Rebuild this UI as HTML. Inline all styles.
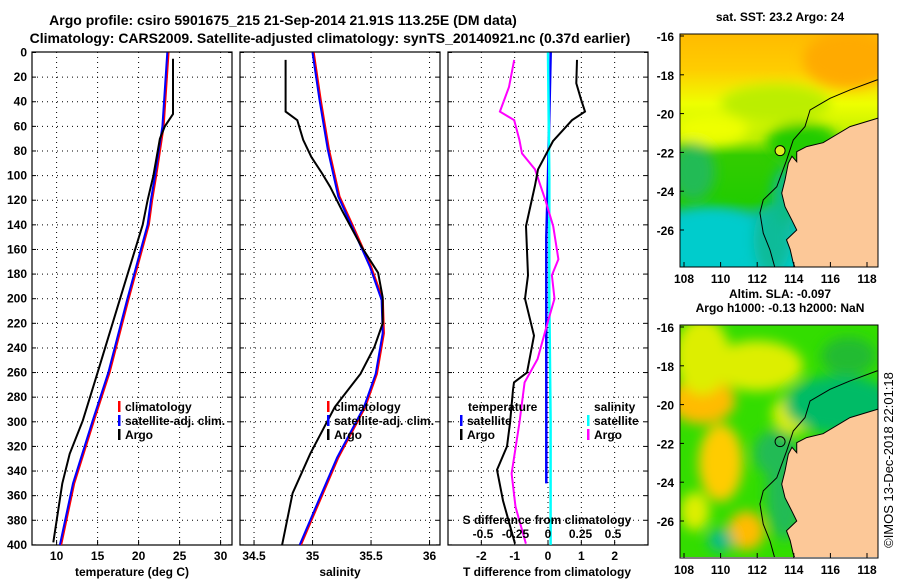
<!DOCTYPE html>
<html><head><meta charset="utf-8">
<style>
body{margin:0;background:#fff;}
svg{display:block;font-family:"Liberation Sans",Arial,sans-serif;font-weight:bold;}
</style></head>
<body>
<svg id="c" width="900" height="580" viewBox="0 0 900 580">
<defs><filter id="bl" x="-50%" y="-50%" width="200%" height="200%"><feGaussianBlur stdDeviation="6"/></filter>
<linearGradient id="sstg" x1="0" y1="0" x2="0" y2="1">
<stop offset="0" stop-color="#ffbb00"/><stop offset="0.15" stop-color="#ffcc00"/><stop offset="0.3" stop-color="#eeff00"/>
<stop offset="0.45" stop-color="#bbee00"/><stop offset="0.52" stop-color="#33cc00"/><stop offset="0.72" stop-color="#22cc00"/>
<stop offset="0.8" stop-color="#11bbaa"/><stop offset="1" stop-color="#00cccc"/></linearGradient>
<clipPath id="m1c"><rect x="680" y="34" width="198" height="233"/></clipPath>
<clipPath id="m2c"><rect x="680" y="325" width="198" height="232"/></clipPath>
<clipPath id="p1c"><rect x="32" y="52" width="200" height="493"/></clipPath>
<clipPath id="p2c"><rect x="240" y="52" width="200" height="493"/></clipPath>
<clipPath id="p3c"><rect x="448" y="52" width="200" height="493"/></clipPath>
</defs>
<text x="283" y="25" font-size="14" text-anchor="middle">Argo profile: csiro 5901675_215 21-Sep-2014 21.91S 113.25E (DM data)</text>
<text x="330" y="43" font-size="14" text-anchor="middle">Climatology: CARS2009. Satellite-adjusted climatology: synTS_20140921.nc (0.37d earlier)</text>
<text transform="translate(893,460) rotate(-90)" font-size="13" font-weight="normal" text-anchor="middle">©IMOS 13-Dec-2018 22:01:18</text>
<g id="g"></g>
</svg>
<script>
// ---- data ----
const depthTicks=[0,20,40,60,80,100,120,140,160,180,200,220,240,260,280,300,320,340,360,380,400];
const tTicks=[10,15,20,25,30];
const sTicks=[34.5,35,35.5,36];
const dTTicks=[-2,-1,0,1,2];
const dSTickLabels=["-0.5","-0.25","0","0.25","0.5"];
const dSTicks=[-0.5,-0.25,0,0.25,0.5];
const argoTDepth=[5,50,60,70,100,120,140,201,260,299,326,350,398];
const argoT=[24.2,24.2,23.2,22.6,21.8,21.1,20.5,17.7,15.0,13.2,11.6,10.7,9.6];
const climTDepth=[0,60,100,120,140,201,260,299,350,400];
const climT=[23.5,22.9,22.0,21.5,21.1,18.6,16.3,14.4,12.0,10.4];
const argoSDepth=[6,48,55,71,85,98,109,128,158,179,199,220,239,261,288,326,358,400];
const argoS=[34.77,34.77,34.87,34.92,34.99,35.08,35.15,35.25,35.42,35.56,35.60,35.60,35.53,35.41,35.19,34.98,34.83,34.74];
const climSDepth=[0,39,79,117,142,174,201,228,261,288,329,369,400];
const climS=[35.0,35.06,35.13,35.22,35.34,35.49,35.59,35.60,35.54,35.44,35.21,35.03,34.89];
const dTDepth=[6,25,38,48,55,72,95,108,141,181,200,230,260,268,274,301,320,339,364,399];
const dTArgo=[0.87,0.85,0.99,1.11,0.72,0.15,-0.3,-0.39,-0.66,-0.6,-0.69,-0.42,-0.63,-1.02,-1.05,-1.14,-1.23,-1.53,-1.35,-0.99];
const dSDepth=[6,28,48,55,71,82,95,120,141,168,181,200,222,249,268,301,342,369,399];
const dSArgo=[-0.26,-0.30,-0.37,-0.26,-0.22,-0.2,-0.10,-0.02,0.04,0.08,0.03,0.05,-0.01,-0.08,-0.18,-0.22,-0.28,-0.25,-0.17];
const dTSatDepth=[0,100,150,250,350];
const dTSat=[0.08,0.0,-0.05,-0.05,-0.05];
const dSSatDepth=[0,100,200,300,400];
const dSSat=[0.0,0.01,0.01,0.02,0.02];
// ---- helpers ----
const NS="http://www.w3.org/2000/svg";
const G=document.getElementById('g');
function mk(t,a,p){const e=document.createElementNS(NS,t);for(const k in a)e.setAttribute(k,a[k]);(p||G).appendChild(e);return e;}
const y0=52.5,ky=1.231;
const Y=d=>y0+d*ky;
const XT=v=>32+(v-7)*8.2;
const XS=v=>240+(v-34.38)*117;
const XD=v=>548+v*33.33;
const XDS=v=>548+v*130;
function panel(x,name,xt,xf,labs){
  const g=mk('g',{});
  
  
  xt.forEach(v=>{mk('line',{x1:xf(v),x2:xf(v),y1:52,y2:545,stroke:'#000','stroke-dasharray':'1,4','stroke-width':1},g);
    mk('line',{x1:xf(v),x2:xf(v),y1:545,y2:540,stroke:'#000'},g);});
  depthTicks.forEach(d=>{if(d>0&&d<400)mk('line',{x1:x,x2:x+200,y1:Y(d),y2:Y(d),stroke:'#000','stroke-dasharray':'1,4'},g);
    mk('line',{x1:x,x2:x+4,y1:Y(d),y2:Y(d),stroke:'#000'},g);mk('line',{x1:x+196,x2:x+200,y1:Y(d),y2:Y(d),stroke:'#000'},g);});
  mk('rect',{x:x,y:52,width:200,height:493,fill:'none',stroke:'#000','stroke-width':1.2},g);
  if(labs) xt.forEach((v,i)=>{const t=mk('text',{x:xf(v),y:560,'font-size':12,'text-anchor':'middle'},g);t.textContent=labs[i];});
  return g;
}
function line(xs,ds,xf,col,w,clip,name){
  const p=xs.map((v,i)=>xf(v).toFixed(1)+','+Y(ds[i]).toFixed(1)).join(' ');
  const e=mk('polyline',{points:p,fill:'none',stroke:col,'stroke-width':w,'clip-path':'url(#'+clip+')'});
  
  
}
function txt(x,y,s,name,anchor,size){const t=mk('text',{x:x,y:y,'font-size':size||12,'text-anchor':anchor||'start'});t.textContent=s;
  
  return t;}
depthTicks.forEach(d=>{txt(27,Y(d)+4,String(d),'depth-tick-label','end');});
panel(32,'temperature-panel',tTicks,XT,tTicks.map(String));
panel(240,'salinity-panel',sTicks,XS,sTicks.map(String));
panel(448,'difference-panel',dTTicks,XD,dTTicks.map(String));
line(climT,climTDepth,v=>XT(v)+1,'#f00',2.5,'p1c','temp-climatology-line');
line(climT,climTDepth,XT,'#00f',2,'p1c','temp-satellite-adj-line');
line(argoT,argoTDepth,XT,'#000',2,'p1c','temp-argo-line');
line(climS,climSDepth,v=>XS(v)+1,'#f00',2.5,'p2c','sal-climatology-line');
line(climS,climSDepth,XS,'#00f',2,'p2c','sal-satellite-adj-line');
line(argoS,argoSDepth,XS,'#000',2,'p2c','sal-argo-line');
line(dTSat,dTSatDepth,XD,'#00f',2.5,'p3c','dT-satellite-line');
line(dSSat,dSSatDepth,XDS,'#0ff',2.5,'p3c','dS-satellite-line');
line(dSArgo,dSDepth,XDS,'#f0f',2,'p3c','dS-argo-line');
line(dTArgo,dTDepth,XD,'#000',2,'p3c','dT-argo-line');
txt(132,576,'temperature (deg C)','x-axis-title-temperature','middle');
txt(340,576,'salinity','x-axis-title-salinity','middle');
txt(547,576,'T difference from climatology','x-axis-title-dT','middle');
txt(547,524,'S difference from climatology','x-axis-title-dS','middle');
dSTicks.forEach((v,i)=>{txt(XDS(v),538,dSTickLabels[i],'dS-tick-label','middle');});
function leg(x,y,col,s,name){mk('rect',{x:x,y:y-10,width:2.5,height:11,fill:col});txt(x+7,y,s,name);}
leg(118,411,'#f00','climatology','legend-climatology');
leg(118,425,'#00f','satellite-adj. clim.','legend-satellite-adj');
leg(118,439,'#000','Argo','legend-argo');
leg(327,411,'#f00','climatology','legend-climatology-2');
leg(327,425,'#00f','satellite-adj. clim.','legend-satellite-adj-2');
leg(327,439,'#000','Argo','legend-argo-2');
txt(468,411,'temperature','legend-temperature-header');
leg(460,425,'#00f','satellite','legend-dT-satellite');
leg(460,439,'#000','Argo','legend-dT-argo');
txt(594,411,'salinity','legend-salinity-header');
leg(587,425,'#0ff','satellite','legend-dS-satellite');
leg(587,439,'#f0f','Argo','legend-dS-argo');
// ---- maps ----
const lonTicks=[108,110,112,114,116,118];
const latTicks=[-16,-18,-20,-22,-24,-26];
const coastLon=[118.9,118.58,117.07,115.6,114.7,114.16,114.16,113.9,113.7,113.52,113.34,113.52,113.9,114.16,113.6,113.8,113.97,114.1];
const coastLat=[-20.2,-20.24,-20.67,-21.5,-21.7,-21.96,-22.48,-22.2,-22.56,-23.42,-24.1,-24.8,-25.5,-26.0,-26.5,-27.0,-27.7,-28.0];
const shelfLon=[118.9,118.53,117.07,115.98,114.89,114.61,113.97,113.61,113.07,112.33,112.15,112.33,112.70,112.97];
const shelfLat=[-18.2,-18.27,-18.78,-19.21,-19.81,-20.67,-21.36,-22.39,-23.77,-24.45,-25.12,-26.16,-27.03,-27.95];
const argoLon=113.25, argoLat=-21.91;
function map(top,name,blobs,base,clip,title){
  const g=mk('g',{});
  
  
  const MX=lon=>684+(lon-108)*18.3, MY=lat=>top+2+(-16-lat)*19.4;
  const cg=mk('g',{'clip-path':'url(#'+clip+')'},g);
  mk('rect',{x:680,y:top,width:198,height:233,fill:base},cg);
  const bg=mk('g',{filter:'url(#bl)'},cg);
  blobs.forEach(b=>mk('ellipse',{cx:MX(b[0]),cy:MY(b[1]),rx:b[2]*18.3,ry:b[3]*19.4,fill:b[4]},bg));
  let p=coastLon.map((v,i)=>MX(v)+','+MY(coastLat[i])).join(' ');
  mk('polygon',{points:p+' '+MX(119)+','+MY(-28.2)+' '+MX(119)+','+MY(-20.2),fill:'#fcc898',stroke:'#000','stroke-width':1},cg);
  mk('polyline',{points:shelfLon.map((v,i)=>MX(v)+','+MY(shelfLat[i])).join(' '),fill:'none',stroke:'#000','stroke-width':1},cg);
  const c=mk('circle',{cx:MX(argoLon),cy:MY(argoLat),r:5,fill:top<100?'#ddee22':'none',stroke:'#000'},g);
  
  
  mk('rect',{x:680,y:top,width:198,height:233,fill:'none',stroke:'#000'},g);
  lonTicks.forEach(v=>{mk('line',{x1:MX(v),x2:MX(v),y1:top+233,y2:top+228,stroke:'#000'},g);
    txt(MX(v),top+249,String(v),'map-lon-label','middle');});
  latTicks.forEach(v=>{mk('line',{x1:680,x2:684,y1:MY(v),y2:MY(v),stroke:'#000'},g);
    txt(674,MY(v)+5,String(v),'map-lat-label','end');});
  title.forEach((s,i)=>txt(780,top-13-(title.length-1-i)*14,s,'map-title','middle'));
}
map(34,'sst-map',[
 [117,-17.2,2.5,1.5,'#ffaa00'],[109.5,-20.8,2,0.8,'#eeff00'],[113,-19.5,3,1,'#bbee00'],
 [114.5,-21.5,2,1,'#22cc00'],[108.5,-23,1.2,1.5,'#22bb55'],
 [109.5,-26.5,3,1.6,'#00cccc'],[112.8,-26.5,1,1.8,'#11bb99'],[113.5,-24.3,0.7,1.5,'#11bb88']
],'url(#sstg)','m1c',['sat. SST: 23.2 Argo: 24']);
map(325,'sla-map',[
 [109,-19.8,1.8,1.2,'#ffbb00'],[109,-17.5,1.5,2,'#ddee00'],[112,-18,2.5,1.3,'#ddee00'],[110,-23,1.2,2,'#ffcc00'],
 [108.6,-25.5,0.8,1,'#ddee00'],[111.4,-26.5,1,1,'#ffbb00'],[114,-20.5,1.2,1,'#ddee00'],[116.5,-20,3,1.5,'#00bb66'],
 [117,-17.5,1.5,1,'#22bb33'],[113,-22.5,1.2,1.2,'#22bb55'],[110,-27,0.7,0.6,'#11bb88'],[113.5,-24.5,1,2.5,'#22bb55']
],'#33dd00','m2c',['Altim. SLA: -0.097','Argo h1000: -0.13 h2000: NaN']);
</script>
</body></html>
